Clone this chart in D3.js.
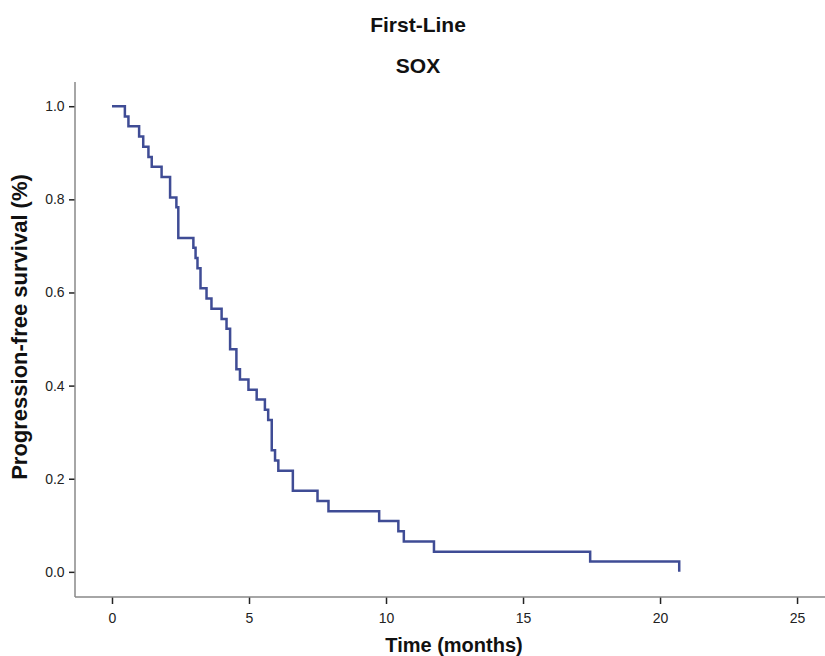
<!DOCTYPE html>
<html>
<head>
<meta charset="utf-8">
<script src="https://cdn.jsdelivr.net/npm/d3@7"></script>
<style>
  html, body { margin: 0; padding: 0; background: #fff; }
  svg { display: block; font-family: "Liberation Sans", Arial, sans-serif; }
</style>
</head>
<body>
<svg id="chart" width="825" height="656"></svg>
<script>
// ---- data (Kaplan-Meier step curve) ----
const title = "First-Line";
const subtitle = "SOX";
const xLabel = "Time (months)";
const yLabel = "Progression-free survival (%)";

// event times (months) and survival level after each event
const eventTimes = [0, 0.47, 0.6, 0.99, 1.14, 1.33, 1.45, 1.81, 2.12, 2.35, 2.42, 2.97, 3.05, 3.12, 3.23,
  3.45, 3.63, 4.0, 4.18, 4.31, 4.54, 4.67, 4.98, 5.28, 5.58, 5.7, 5.83, 5.95, 6.07, 6.6, 7.5, 7.9,
  9.75, 10.45, 10.65, 11.75, 17.45, 20.7];
const survival = [1.0, 0.978, 0.957, 0.935, 0.913, 0.891, 0.870, 0.848, 0.804, 0.783, 0.717, 0.696, 0.674,
  0.652, 0.609, 0.587, 0.565, 0.543, 0.522, 0.478, 0.435, 0.413, 0.391, 0.370, 0.348, 0.326, 0.261,
  0.239, 0.217, 0.174, 0.152, 0.130, 0.109, 0.087, 0.065, 0.043, 0.022, 0.0];

const xTicks = [0, 5, 10, 15, 20, 25];
const yTicks = [0.0, 0.2, 0.4, 0.6, 0.8, 1.0];

// ---- layout ----
const svg = d3.select("#chart");
const plot = { left: 75, right: 825, top: 82, bottom: 597 };

const x = d3.scaleLinear().domain([-1.35, 26.02]).range([plot.left, plot.right]);
const y = d3.scaleLinear().domain([-0.054, 1.052]).range([plot.bottom, plot.top]);

// titles
svg.append("text").attr("x", 418).attr("y", 32).attr("text-anchor", "middle")
  .attr("font-size", 21).attr("font-weight", "bold").attr("fill", "#111").text(title);
svg.append("text").attr("x", 418).attr("y", 73).attr("text-anchor", "middle")
  .attr("font-size", 21).attr("font-weight", "bold").attr("fill", "#111").text(subtitle);

// axes
const xAxis = d3.axisBottom(x).tickValues(xTicks).tickFormat(d3.format("d")).tickSize(7).tickSizeOuter(0);
const yAxis = d3.axisLeft(y).tickValues(yTicks).tickFormat(d3.format(".1f")).tickSize(6).tickSizeOuter(0);

const gx = svg.append("g").attr("transform", `translate(0,${plot.bottom})`).call(xAxis);
const gy = svg.append("g").attr("transform", `translate(${plot.left},0)`).call(yAxis);

[gx, gy].forEach(g => {
  g.select(".domain").remove();
  g.selectAll(".tick line").attr("stroke", "#222").attr("stroke-width", 1.5);
  g.selectAll(".tick text").attr("font-size", 14).attr("fill", "#222")
    .attr("font-family", "'Liberation Sans', Arial, sans-serif");
});
gx.selectAll(".tick text").attr("dy", "1.15em");
gy.selectAll(".tick text").attr("dx", "-0.1em");

// axis lines
svg.append("line").attr("x1", plot.left).attr("x2", plot.left)
  .attr("y1", plot.top).attr("y2", plot.bottom).attr("stroke", "#888").attr("stroke-width", 1.5);
svg.append("line").attr("x1", plot.left).attr("x2", plot.right)
  .attr("y1", plot.bottom).attr("y2", plot.bottom).attr("stroke", "#888").attr("stroke-width", 1.5);

// axis titles
svg.append("text").attr("x", 454).attr("y", 652).attr("text-anchor", "middle")
  .attr("font-size", 20).attr("font-weight", "bold").attr("fill", "#111").text(xLabel);
svg.append("text").attr("transform", "translate(27,327) rotate(-90)").attr("text-anchor", "middle")
  .attr("font-size", 22).attr("font-weight", "bold").attr("fill", "#111").text(yLabel);

// survival step curve
const pts = eventTimes.map((t, i) => [t, survival[i]]);
const line = d3.line().x(d => x(d[0])).y(d => y(d[1])).curve(d3.curveStepAfter);
svg.append("path").datum(pts).attr("d", line)
  .attr("fill", "none").attr("stroke", "#3f4c95").attr("stroke-width", 2.5)
  .attr("stroke-linejoin", "miter");
</script>
</body>
</html>
